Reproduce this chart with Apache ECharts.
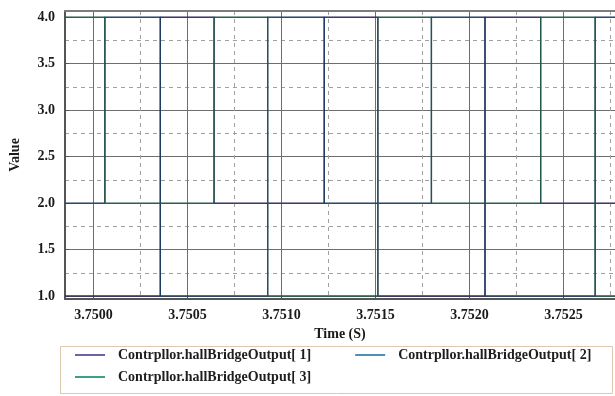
<!DOCTYPE html>
<html>
<head>
<meta charset="utf-8">
<script src="https://cdn.jsdelivr.net/npm/echarts@6/dist/echarts.min.js"></script>
<style>
  html, body { margin: 0; padding: 0; background: #ffffff; }
  #chart { width: 615px; height: 396px; }
</style>
</head>
<body>
<div id="chart"></div>
<script>
// Hall-bridge outputs: each signal holds a level until the next switching instant.
const seriesNames = [
  'Contrpllor.hallBridgeOutput[ 1]',
  'Contrpllor.hallBridgeOutput[ 2]',
  'Contrpllor.hallBridgeOutput[ 3]'
];

// Switching instants (s); the first and last entries are the window edges.
const switchTimes = [
  3.749849, 3.750061, 3.750356, 3.750642, 3.750927, 3.751228,
  3.751513, 3.751798, 3.752083, 3.752379, 3.752669, 3.7527745
];

// Level of each output from the matching switching instant onward.
const output1 = [1, 1, 4, 2, 2, 4, 1, 1, 4, 2, 2, 2];
const output2 = [2, 4, 1, 1, 4, 2, 2, 4, 1, 1, 4, 4];
const output3 = [4, 2, 2, 4, 1, 1, 4, 2, 2, 4, 1, 1];

// Axis ticks and the dashed in-between grid positions.
const timeTicks = [3.7500, 3.7505, 3.7510, 3.7515, 3.7520, 3.7525];
const timeMinor = [3.75025, 3.75075, 3.75125, 3.75175, 3.75225, 3.75275];
const valueTicks = [1.0, 1.5, 2.0, 2.5, 3.0, 3.5, 4.0];
const valueMinor = [1.25, 1.75, 2.25, 2.75, 3.25, 3.75];

const timeMin = switchTimes[0];
const timeMax = switchTimes[switchTimes.length - 1];
const valueMin = 0.968;
const valueMax = 4.065;

const lineColors = ['#33295f', '#1d3d60', '#21584a'];
const legendColors = ['#6f63a8', '#4f8fb8', '#3f9f86'];
const serif = '"Liberation Serif", "Times New Roman", serif';

function pairs(values) {
  return switchTimes.map((t, i) => [t, values[i]]);
}

const outputs = [output1, output2, output3];

const chart = echarts.init(document.getElementById('chart'), null, { renderer: 'canvas' });

const labelStyle = { fontFamily: serif, fontWeight: 'bold', fontSize: 14, color: '#1a1a1a' };
const nameStyle = { fontFamily: serif, fontWeight: 'bold', fontSize: 14, color: '#1a1a1a' };
const legendText = { fontFamily: serif, fontWeight: 'bold', fontSize: 14, color: '#1e1e1e', padding: [0, 0, 0, 8] };

chart.setOption({
  animation: false,
  backgroundColor: '#ffffff',
  grid: { left: 61, right: 0, top: 11, bottom: 97, containLabel: false },
  graphic: [{
    type: 'rect',
    left: 60, top: 346,
    shape: { width: 552, height: 47 },
    style: { fill: '#ffffff', stroke: '#dfc7ae', lineWidth: 1 },
    z: 0
  }],
  xAxis: [
    {
      type: 'value', min: timeMin, max: timeMax, position: 'bottom',
      name: 'Time (S)', nameLocation: 'middle', nameGap: 28,
      nameTextStyle: nameStyle,
      axisLine: { show: true, lineStyle: { color: '#555555', width: 2 } },
      axisTick: { show: true, inside: true, length: 4, customValues: timeTicks, lineStyle: { color: '#555' } },
      axisLabel: Object.assign({ customValues: timeTicks, margin: 9, formatter: v => v.toFixed(4) }, labelStyle),
      splitLine: { show: true, lineStyle: { color: '#6e6e6e', width: 1, type: 'solid' } }
    },
    {
      type: 'value', min: timeMin, max: timeMax, position: 'top',
      axisLine: { show: true, lineStyle: { color: '#7d7d7d', width: 2 } },
      axisTick: { show: true, length: 0, customValues: timeMinor },
      axisLabel: { show: false },
      splitLine: { show: true, lineStyle: { color: '#a0a0a0', width: 1, type: [4, 4] } }
    }
  ],
  yAxis: [
    {
      type: 'value', min: valueMin, max: valueMax, position: 'left',
      name: 'Value', nameLocation: 'middle', nameGap: 43, nameRotate: 90,
      nameTextStyle: nameStyle,
      axisLine: { show: true, lineStyle: { color: '#555555', width: 2 } },
      axisTick: { show: true, inside: true, length: 4, customValues: valueTicks, lineStyle: { color: '#555' } },
      axisLabel: Object.assign({ customValues: valueTicks, margin: 10, formatter: v => v.toFixed(1) }, labelStyle),
      splitLine: { show: true, lineStyle: { color: '#6e6e6e', width: 1, type: 'solid' } }
    },
    {
      type: 'value', min: valueMin, max: valueMax, position: 'right',
      axisLine: { show: false },
      axisTick: { show: true, length: 0, customValues: valueMinor },
      axisLabel: { show: false },
      splitLine: { show: true, lineStyle: { color: '#a0a0a0', width: 1, type: [4, 4] } }
    }
  ],
  legend: [
    {
      left: 60, top: 346, orient: 'horizontal',
      padding: [2, 0, 0, 15], itemGap: 44,
      itemWidth: 30, itemHeight: 2, icon: 'rect',
      textStyle: legendText,
      data: [0, 1].map(i => ({ name: seriesNames[i], itemStyle: { color: legendColors[i] } }))
    },
    {
      left: 60, top: 369, orient: 'horizontal',
      padding: [1, 0, 0, 15],
      itemWidth: 30, itemHeight: 2, icon: 'rect',
      textStyle: legendText,
      data: [{ name: seriesNames[2], itemStyle: { color: legendColors[2] } }]
    }
  ],
  series: outputs.map((vals, i) => ({
    name: seriesNames[i],
    type: 'line',
    step: 'end',
    xAxisIndex: 0,
    yAxisIndex: 0,
    symbol: 'none',
    color: lineColors[i],
    lineStyle: { width: 1.3, color: lineColors[i] },
    data: pairs(vals),
    z: 3
  }))
});
</script>
</body>
</html>
